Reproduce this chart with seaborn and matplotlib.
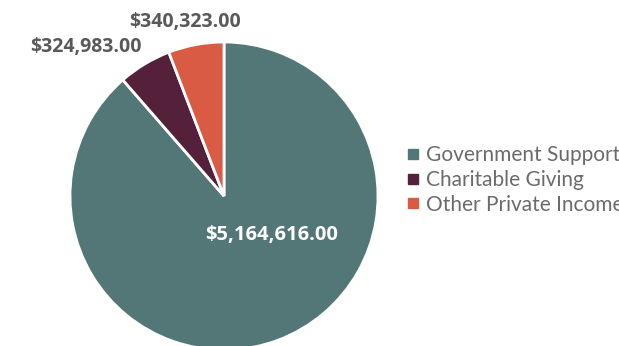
import matplotlib
matplotlib.use("Agg")
import matplotlib.pyplot as plt
from matplotlib.lines import Line2D
import seaborn as sns

# Revenue sources
categories = ["Government Support", "Charitable Giving", "Other Private Income"]
amounts = [5164616.00, 324983.00, 340323.00]
colors = ["#537677", "#55213a", "#d95b43"]

sns.set_theme(style="white")
plt.rcParams["font.family"] = ["Open Sans", "DejaVu Sans"]

W, H = 619, 346
fig = plt.figure(figsize=(W / 100, H / 100), dpi=100)

# Pie axes: radius 154 px, centred at (224, 196) px from the top-left
cx, cy, r = 224, 196, 154
ax = fig.add_axes([(cx - r) / W, (H - cy - r) / H, 2 * r / W, 2 * r / H])
ax.axis("off")

wedges, _ = ax.pie(
    amounts,
    colors=colors,
    startangle=90,
    counterclock=False,
    radius=1.0,
    wedgeprops=dict(edgecolor="white", linewidth=2),
)
ax.set_xlim(-1, 1)
ax.set_ylim(-1, 1)
ax.set_aspect("equal")

def money(v):
    return f"${v:,.2f}"

# value labels
ax.text(48 / r, -39 / r, money(amounts[0]), color="white", fontsize=14.5,
        fontweight="bold", ha="center", va="center")
ax.text(-138 / r, 149 / r, money(amounts[1]), color="#595959", fontsize=14,
        fontweight="bold", ha="center", va="center", clip_on=False)
ax.text(-39 / r, 174 / r, money(amounts[2]), color="#595959", fontsize=14,
        fontweight="bold", ha="center", va="center", clip_on=False)

handles = [Line2D([0], [0], marker="s", linestyle="none", markersize=7,
                  markerfacecolor=c, markeredgecolor=c) for c in colors]
leg = fig.legend(handles, categories, loc="center left",
                 bbox_to_anchor=(398 / W, 1 - 180 / H), frameon=False,
                 handlelength=0.6, handletextpad=0.35,
                 labelspacing=0.22, borderaxespad=0,
                 prop={"family": ["Lato", "DejaVu Sans"], "size": 15})
for t in leg.get_texts():
    t.set_color("#6b6b6b")

fig.savefig("out.png", dpi=100)
